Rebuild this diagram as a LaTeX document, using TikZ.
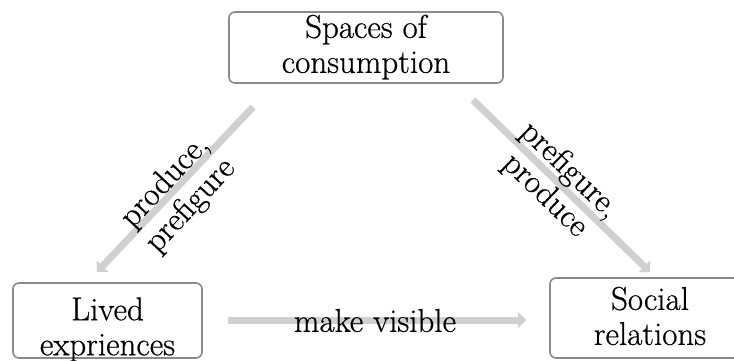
\documentclass[tikz,border=0pt]{standalone}
\usepackage{fontspec}
\setmainfont{Latin Modern Roman}[FakeBold=0.6]
\usetikzlibrary{arrows.meta}
\definecolor{boxgray}{HTML}{8A8A8A}
\definecolor{arrowgray}{HTML}{D0D0D0}
\begin{document}
\begin{tikzpicture}[x={(1pt,0pt)}, y={(0pt,-1pt)},
  box/.style={draw=boxgray, line width=1.6pt, rounded corners=6pt, inner sep=0pt},
  txt/.style={font=\fontsize{33}{35}\selectfont, align=center, inner sep=0pt, text=black},
  flow/.style={draw=arrowgray, line width=7pt, -{Triangle[length=8pt,width=16pt]}}]
\useasboundingbox (0,0) rectangle (734,360);
\clip (0,0) rectangle (734,360);
% boxes
\node[box, minimum width=274pt, minimum height=71pt] (top) at (366,47.5) {};
\node[box, minimum width=189pt, minimum height=75pt] (lived) at (107.5,320.5) {};
\node[box, minimum width=200pt, minimum height=80pt] (social) at (650,318) {};
% box texts
\node[txt] (toptxt) at (366,47) {Spaces of\\consumption};
\node[txt] (livedtxt) at (107.5,329.5) {Lived\\expriences};
\node[txt] (socialtxt) at (650,316) {Social\\relations};
% arrow end points
\coordinate (l1) at (253,107);
\coordinate (l2) at (97,272);
\coordinate (r1) at (473,100);
\coordinate (r2) at (650,272);
\coordinate (h1) at (228,320);
\coordinate (h2) at (526,320);
\draw[flow] (l1) -- (l2);
\draw[flow] (r1) -- (r2);
\draw[flow] (h1) -- (h2);
% arrow labels
\node[txt, rotate=47] (llab) at (178,194) {produce,\\prefigure};
\node[txt, rotate=-44] (rlab) at (557,183) {prefigure,\\produce};
\node[txt] (hlab) at (375,320.5) {make visible};
\end{tikzpicture}
\end{document}
